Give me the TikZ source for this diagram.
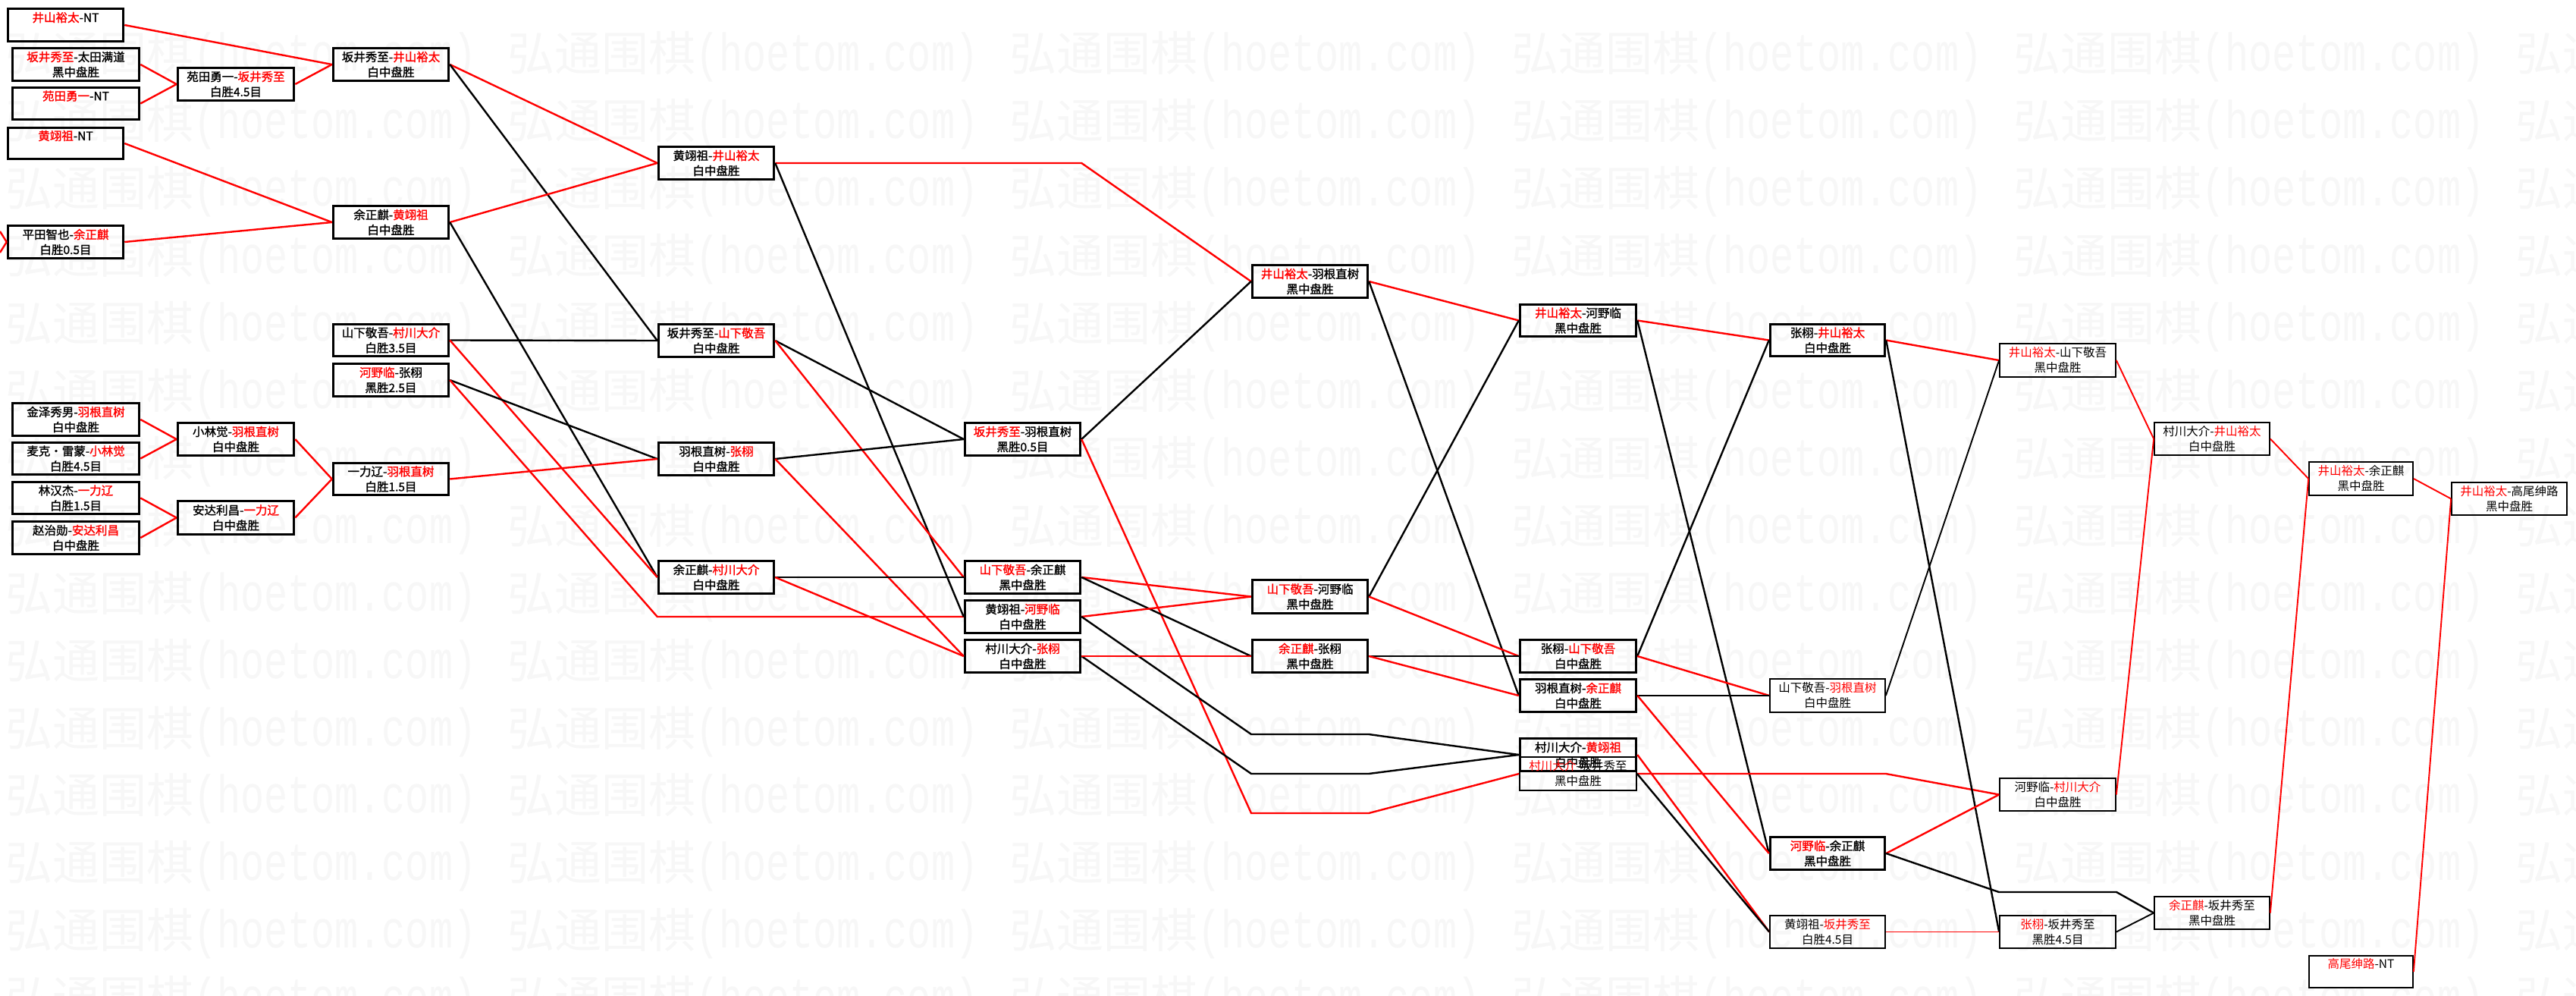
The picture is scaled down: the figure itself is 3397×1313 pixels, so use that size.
\documentclass[tikz,border=0pt]{standalone}
\usepackage{fontspec}
\newfontfamily\cjk{Noto Sans CJK SC}
\newfontfamily\cjkb[FakeBold=1.5]{Noto Sans CJK SC}
\newfontfamily\wmlat[FakeStretch=0.74]{Liberation Mono}
\newcommand\rd[1]{\textcolor{red}{#1}}
\tikzset{
  bxb/.style={draw=black, line width=3pt, rectangle, inner sep=0pt, align=center,
              font=\cjkb\fontsize{15.5}{20}\selectfont},
  bxt/.style={draw=black, line width=2.2pt, rectangle, inner sep=0pt, align=center,
              font=\cjk\fontsize{15.5}{20}\selectfont},
  rl/.style={draw=red, line width=2.4pt},
  bl/.style={draw=black, line width=2.4pt},
  rlt/.style={draw=red, line width=1.9pt},
  blt/.style={draw=black, line width=1.9pt},
  wm/.style={text=black!3, anchor=base west, inner sep=0pt},
}
\newcommand\bx[7]{%
  \node[#1, minimum width={#5-#3-2.5}, minimum height={#6-#4-2.5}] (#2)
    at ({(#3+#5)/2},{(#4+#6)/2}) {#7};}
\begin{document}
\begin{tikzpicture}[x=1pt,y=-1pt]
\path[use as bounding box, fill=white] (0,0) rectangle (3397,1313);
% watermark
\foreach \k in {0,...,14}{
  \foreach \j in {0,...,5}{
    \node[wm] (w\k-\j) at ({7+662*\j},{94+88.9*\k})
      {{\cjk\fontsize{62}{62}\selectfont 弘通围棋}{\wmlat\fontsize{70}{70}\selectfont (hoetom.com)}};
  }
}
% boxes
\bx{bxb}{A1}{9}{10}{164}{56}{\rd{井山裕太}-NT\\\phantom{白}}
\bx{bxb}{A2}{15}{62}{185}{108}{\rd{坂井秀至}-太田满道\\黑中盘胜}
\bx{bxb}{A3}{15}{114}{185}{159}{\rd{苑田勇一}-NT\\\phantom{白}}
\bx{bxb}{A4}{9}{167}{164}{211}{\rd{黄翊祖}-NT\\\phantom{白}}
\bx{bxb}{A5}{9}{296}{164}{342}{平田智也-\rd{余正麒}\\白胜0.5目}
\bx{bxb}{A6}{15}{530}{185}{576}{金泽秀男-\rd{羽根直树}\\白中盘胜}
\bx{bxb}{A7}{15}{582}{185}{627}{麦克・雷蒙-\rd{小林觉}\\白胜4.5目}
\bx{bxb}{A8}{15}{634}{185}{679}{林汉杰-\rd{一力辽}\\白胜1.5目}
\bx{bxb}{A9}{15}{686}{185}{732}{赵治勋-\rd{安达利昌}\\白中盘胜}
\bx{bxb}{B1}{233}{88}{389}{134}{苑田勇一-\rd{坂井秀至}\\白胜4.5目}
\bx{bxb}{B2}{233}{556}{389}{602}{小林觉-\rd{羽根直树}\\白中盘胜}
\bx{bxb}{B3}{233}{659}{389}{706}{安达利昌-\rd{一力辽}\\白中盘胜}
\bx{bxb}{C1}{438}{62}{593}{108}{坂井秀至-\rd{井山裕太}\\白中盘胜}
\bx{bxb}{C2}{438}{270}{593}{316}{余正麒-\rd{黄翊祖}\\白中盘胜}
\bx{bxb}{C3}{438}{426}{593}{471}{山下敬吾-\rd{村川大介}\\白胜3.5目}
\bx{bxb}{C4}{438}{478}{593}{524}{\rd{河野临}-张栩\\黑胜2.5目}
\bx{bxb}{C5}{438}{609}{593}{654}{一力辽-\rd{羽根直树}\\白胜1.5目}
\bx{bxb}{D1}{867}{192}{1022}{238}{黄翊祖-\rd{井山裕太}\\白中盘胜}
\bx{bxb}{D2}{867}{426}{1022}{472}{坂井秀至-\rd{山下敬吾}\\白中盘胜}
\bx{bxb}{D3}{867}{582}{1022}{628}{羽根直树-\rd{张栩}\\白中盘胜}
\bx{bxb}{D4}{867}{738}{1022}{784}{余正麒-\rd{村川大介}\\白中盘胜}
\bx{bxb}{Ew}{1271}{556}{1426}{602}{\rd{坂井秀至}-羽根直树\\黑胜0.5目}
\bx{bxb}{E2}{1271}{738}{1426}{784}{\rd{山下敬吾}-余正麒\\黑中盘胜}
\bx{bxb}{E3}{1271}{790}{1426}{836}{黄翊祖-\rd{河野临}\\白中盘胜}
\bx{bxb}{E4}{1271}{842}{1426}{888}{村川大介-\rd{张栩}\\白中盘胜}
\bx{bxb}{E1}{1650}{348}{1805}{394}{\rd{井山裕太}-羽根直树\\黑中盘胜}
\bx{bxb}{F2}{1650}{763}{1805}{810}{\rd{山下敬吾}-河野临\\黑中盘胜}
\bx{bxb}{F3}{1650}{842}{1805}{888}{\rd{余正麒}-张栩\\黑中盘胜}
\bx{bxb}{F1}{2003}{400}{2159}{445}{\rd{井山裕太}-河野临\\黑中盘胜}
\bx{bxb}{G1}{2003}{842}{2159}{888}{张栩-\rd{山下敬吾}\\白中盘胜}
\bx{bxb}{G2}{2003}{894}{2159}{940}{羽根直树-\rd{余正麒}\\白中盘胜}
\bx{bxb}{G3}{2003}{972}{2159}{1018}{村川大介-\rd{黄翊祖}\\白中盘胜}
\bx{bxt}{G4}{2003}{997}{2159}{1043}{\rd{村川大介}-坂井秀至\\黑中盘胜}
\bx{bxb}{H1}{2333}{426}{2487}{471}{张栩-\rd{井山裕太}\\白中盘胜}
\bx{bxt}{J1}{2333}{894}{2487}{940}{山下敬吾-\rd{羽根直树}\\白中盘胜}
\bx{bxb}{J2}{2333}{1102}{2487}{1148}{\rd{河野临}-余正麒\\黑中盘胜}
\bx{bxt}{J3}{2333}{1206}{2487}{1251}{黄翊祖-\rd{坂井秀至}\\白胜4.5目}
\bx{bxt}{I1}{2636}{452}{2791}{498}{\rd{井山裕太}-山下敬吾\\黑中盘胜}
\bx{bxt}{K1}{2636}{1025}{2791}{1070}{河野临-\rd{村川大介}\\白中盘胜}
\bx{bxt}{K2}{2636}{1206}{2791}{1251}{\rd{张栩}-坂井秀至\\黑胜4.5目}
\bx{bxt}{L1}{2840}{556}{2994}{601}{村川大介-\rd{井山裕太}\\白中盘胜}
\bx{bxt}{M2}{2840}{1181}{2994}{1226}{\rd{余正麒}-坂井秀至\\黑中盘胜}
\bx{bxt}{M1}{3044}{608}{3183}{654}{\rd{井山裕太}-余正麒\\黑中盘胜}
\bx{bxt}{O1}{3044}{1259}{3183}{1303}{\rd{高尾绅路}-NT\\\phantom{白}}
\bx{bxt}{N1}{3232}{635}{3386}{680}{\rd{井山裕太}-高尾绅路\\黑中盘胜}
% bend / free-end coordinates
\coordinate (e1) at (0,305);
\coordinate (e2) at (0,333);
\coordinate (k1) at (1650,1072);
\coordinate (k2) at (1805,1072);
\coordinate (k3) at (1650,968);
\coordinate (k4) at (1805,968);
\coordinate (k5) at (1650,1020);
\coordinate (k6) at (1805,1020);
\coordinate (k7) at (2636,1176);
\coordinate (k8) at (2791,1176);
% connectors: first rounds
\draw[rl] (e1) -- (A5.west);
\draw[rl] (e2) -- (A5.west);
\draw[rl] (A1.east) -- (C1.west);
\draw[rl] (A2.east) -- (B1.west);
\draw[rl] (A3.east) -- (B1.west);
\draw[rl] (B1.east) -- (C1.west);
\draw[rl] (A4.east) -- (C2.west);
\draw[rl] (A5.east) -- (C2.west);
\draw[rl] (A6.east) -- (B2.west);
\draw[rl] (A7.east) -- (B2.west);
\draw[rl] (B2.east) -- (C5.west);
\draw[rl] (A8.east) -- (B3.west);
\draw[rl] (A9.east) -- (B3.west);
\draw[rl] (B3.east) -- (C5.west);
% C -> D
\draw[rl] (C1.east) -- (D1.west);
\draw[bl] (C1.east) -- (D2.west);
\draw[rl] (C2.east) -- (D1.west);
\draw[bl] (C2.east) -- (D4.west);
\draw[bl] (C3.east) -- (D2.west);
\draw[rl] (C3.east) -- (D4.west);
\draw[bl] (C4.east) -- (D3.west);
\draw[rl] (C4.east) -- (D4.west |- E3.west) -- (E3.west);
\draw[rl] (C5.east) -- (D3.west);
% D -> E
\draw[rl] (D1.east) -- (D1.east -| Ew.east) -- (E1.west);
\draw[bl] (D1.east) -- (E3.west);
\draw[bl] (D2.east) -- (Ew.west);
\draw[rl] (D2.east) -- (E2.west);
\draw[bl] (D3.east) -- (Ew.west);
\draw[rl] (D3.east) -- (E4.west);
\draw[bl] (D4.east) -- (E2.west);
\draw[rl] (D4.east) -- (E4.west);
% E -> F / G
\draw[bl] (Ew.east) -- (E1.west);
\draw[rl] (Ew.east) -- (k1) -- (k2) -- (G4.west);
\draw[rl] (E2.east) -- (F2.west);
\draw[bl] (E2.east) -- (F3.west);
\draw[rl] (E3.east) -- (F2.west);
\draw[bl] (E3.east) -- (k3) -- (k4) -- (G3.west);
\draw[bl] (E4.east) -- (k5) -- (k6) -- (G3.west);
\draw[rl] (E4.east) -- (F3.west);
% F / G
\draw[rl] (E1.east) -- (F1.west);
\draw[bl] (E1.east) -- (G2.west);
\draw[bl] (F2.east) -- (F1.west);
\draw[rl] (F2.east) -- (G1.west);
\draw[bl] (F3.east) -- (G1.west);
\draw[rl] (F3.east) -- (G2.west);
% -> H / J / K
\draw[rl] (F1.east) -- (H1.west);
\draw[bl] (F1.east) -- (J2.west);
\draw[bl] (G1.east) -- (H1.west);
\draw[rl] (G1.east) -- (J1.west);
\draw[bl] (G2.east) -- (J1.west);
\draw[rl] (G2.east) -- (J2.west);
\draw[rl] (G3.east) -- (J3.west);
\draw[rl] (G4.east) -- (G4.east -| J1.east) -- (K1.west);
\draw[bl] (G4.east) -- (J3.west);
\draw[rl] (H1.east) -- (I1.west);
\draw[bl] (H1.east) -- (K2.west);
\draw[blt] (J1.east) -- (I1.west);
\draw[rl] (J2.east) -- (K1.west);
\draw[bl] (J2.east) -- (k7) -- (k8) -- (M2.west);
\draw[rlt] (J3.east) -- (K2.west);
% final rounds
\draw[rlt] (I1.east) -- (L1.west);
\draw[rlt] (K1.east) -- (L1.west);
\draw[blt] (K2.east) -- (M2.west);
\draw[rlt] (L1.east) -- (M1.west);
\draw[rlt] (M2.east) -- (M1.west);
\draw[rlt] (M1.east) -- (N1.west);
\draw[rlt] (O1.east) -- (N1.west);
\end{tikzpicture}
\end{document}
